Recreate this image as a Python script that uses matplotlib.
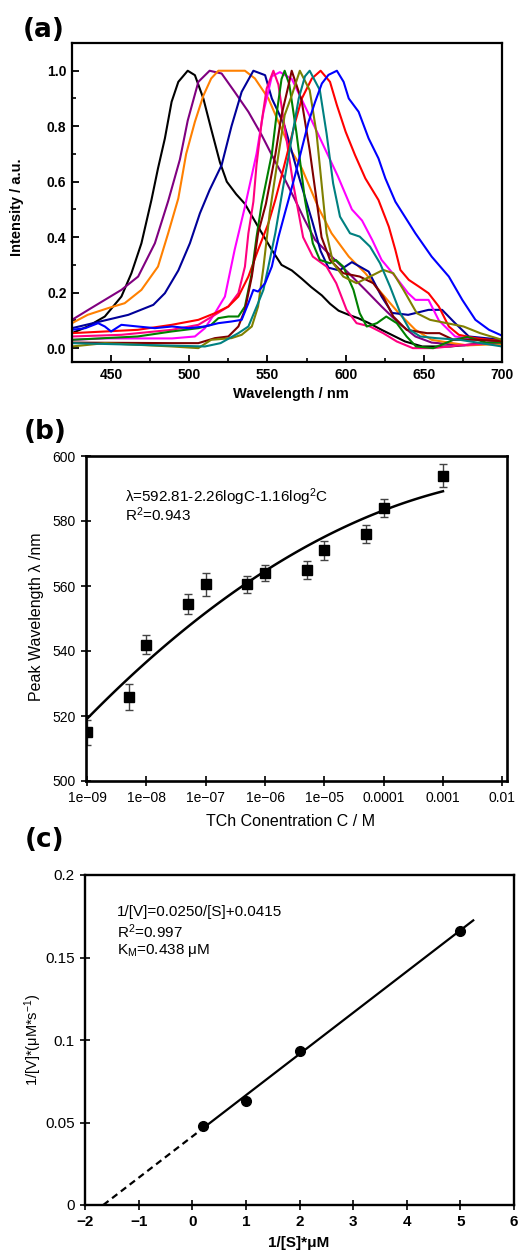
import matplotlib
matplotlib.use("Agg")
import matplotlib.pyplot as plt
from matplotlib.ticker import MultipleLocator, NullLocator, FixedLocator
import numpy as np

plt.rcParams['font.family'] = ['Liberation Sans', 'DejaVu Sans']
plt.rcParams['mathtext.fontset'] = 'custom'
plt.rcParams['mathtext.rm'] = 'Liberation Sans'
plt.rcParams['mathtext.it'] = 'Liberation Sans:italic'
plt.rcParams['mathtext.bf'] = 'Liberation Sans:bold'

# ---------- (a) normalised emission spectra ----------
wl_black = [425, 435, 446, 456.6, 463, 469.4, 475.8, 480, 484.4, 488.7, 493, 499, 503.6, 509, 514, 519.6, 524,
            530, 535.6, 544, 552.8, 559, 565.6, 572, 578, 584.8, 590, 595.5, 602, 608, 615, 623, 638, 649, 667, 700]
int_black = [0.054, 0.078, 0.114, 0.186, 0.27, 0.378, 0.534, 0.648, 0.756, 0.888, 0.96, 1.0, 0.984, 0.9, 0.79, 0.67, 0.6,
             0.555, 0.52, 0.438, 0.354, 0.30, 0.28, 0.25, 0.22, 0.19, 0.16, 0.135, 0.12, 0.108, 0.09, 0.066, 0.024, 0.006, 0.006, 0.024]

wl_purple = [425, 436, 446, 456.6, 467.3, 478, 486.5, 494, 499, 505.8, 513, 520.7, 529, 537.8, 546.3, 555, 561, 567.7,
             574, 580.5, 591, 602, 612.6, 623, 634, 644.6, 655, 676, 700]
int_purple = [0.102, 0.14, 0.174, 0.21, 0.258, 0.378, 0.53, 0.68, 0.82, 0.96, 1.0, 0.99, 0.924, 0.852, 0.768, 0.672, 0.61,
              0.534, 0.46, 0.39, 0.33, 0.27, 0.21, 0.15, 0.09, 0.042, 0.02, 0.01, 0.02]

wl_orange = [425, 435, 448, 458.7, 469.4, 480, 486.5, 493, 498, 503.6, 509, 514, 518.6, 527, 535.6, 542, 550.6, 559,
             565.6, 572, 582.7, 591, 602, 612.6, 623, 634, 644.6, 655, 666, 678, 700]
int_orange = [0.09, 0.12, 0.144, 0.162, 0.21, 0.294, 0.414, 0.54, 0.70, 0.816, 0.91, 0.972, 1.0, 1.0, 1.0, 0.972, 0.9, 0.79,
              0.708, 0.648, 0.505, 0.414, 0.33, 0.27, 0.198, 0.126, 0.066, 0.03, 0.02, 0.01, 0.015]

wl_navy = [425, 446, 461, 477, 484.4, 493, 500.4, 506.8, 513, 520.7, 527, 533.5, 541, 548.5, 552.8, 557, 561, 565, 570,
           578.5, 584, 589, 596, 604, 614.7, 623, 629.7, 640, 653, 661.7, 670, 678.8, 700]
int_navy = [0.072, 0.10, 0.12, 0.156, 0.198, 0.28, 0.378, 0.486, 0.57, 0.66, 0.80, 0.924, 1.0, 0.984, 0.9, 0.85, 0.80, 0.72,
            0.62, 0.46, 0.35, 0.29, 0.28, 0.31, 0.276, 0.186, 0.127, 0.12, 0.138, 0.138, 0.09, 0.042, 0.03]

wl_magenta = [425, 446, 489, 503.6, 510, 516.4, 522.8, 529, 535.6, 543, 547.4, 552.8, 558, 565.6, 575, 585, 595, 604,
              610.5, 617, 623, 631.8, 640, 644.6, 653, 659.6, 670, 686, 700]
int_magenta = [0.03, 0.035, 0.035, 0.042, 0.072, 0.126, 0.186, 0.354, 0.51, 0.70, 0.85, 0.98, 0.995, 0.97, 0.86, 0.74,
               0.62, 0.5, 0.46, 0.39, 0.318, 0.258, 0.198, 0.174, 0.174, 0.10, 0.042, 0.03, 0.025]

wl_pink = [425, 456.6, 488.7, 505.8, 516.4, 525, 531.4, 535.6, 537.8, 541, 543, 546.3, 549.5, 553.8, 557, 560, 566.4,
           572.8, 579, 587.8, 594, 600.6, 607, 615.6, 624, 632.7, 643, 656, 673, 700]
int_pink = [0.042, 0.048, 0.066, 0.084, 0.12, 0.15, 0.198, 0.294, 0.414, 0.528, 0.66, 0.816, 0.936, 1.0, 0.95, 0.834, 0.594,
            0.40, 0.33, 0.294, 0.234, 0.138, 0.09, 0.078, 0.054, 0.024, 0.0, 0.0, 0.01, 0.02]

wl_red = [425, 446, 467, 488.7, 505.8, 516.4, 525, 531.4, 537.8, 544, 550.6, 555, 559, 563.5, 568, 572, 578.4, 584, 590,
          594.4, 600, 606, 612.6, 621, 627.6, 631.8, 635, 640.4, 646.8, 653, 659.6, 666, 672.4, 683, 700]
int_red = [0.054, 0.06, 0.066, 0.084, 0.102, 0.126, 0.15, 0.186, 0.258, 0.354, 0.45, 0.534, 0.62, 0.72, 0.82, 0.9, 0.972,
           1.0, 0.96, 0.876, 0.78, 0.696, 0.612, 0.534, 0.438, 0.354, 0.282, 0.246, 0.222, 0.198, 0.15, 0.078, 0.048, 0.036, 0.025]

wl_green = [425, 467, 488.7, 505.8, 514, 518.6, 525, 531.4, 535.6, 540, 543, 546.3, 552.8, 556, 559, 561, 564, 568.6, 574,
            579, 583.5, 590, 593.7, 598.5, 605, 609, 613.5, 620, 626, 632.7, 639, 645, 656, 669, 678, 690, 700]
int_green = [0.03, 0.042, 0.06, 0.072, 0.084, 0.108, 0.114, 0.114, 0.15, 0.27, 0.40, 0.52, 0.70, 0.85, 0.97, 1.0, 0.95, 0.774,
             0.534, 0.378, 0.318, 0.306, 0.318, 0.294, 0.21, 0.126, 0.078, 0.09, 0.114, 0.09, 0.042, 0.006, 0.0, 0.03, 0.04, 0.02, 0.02]

wl_darkred = [425, 489, 505.8, 516.4, 525, 531.4, 535.6, 540, 544, 549, 555, 559, 563.5, 565.5, 571.8, 577, 581.4, 584.6,
              590, 598.5, 609, 617.7, 624, 630.5, 639, 652, 660, 669, 684, 700]
int_darkred = [0.02, 0.018, 0.018, 0.036, 0.042, 0.078, 0.138, 0.258, 0.414, 0.52, 0.696, 0.84, 0.948, 1.0, 0.894, 0.714,
               0.534, 0.40, 0.318, 0.27, 0.258, 0.234, 0.186, 0.114, 0.066, 0.054, 0.054, 0.03, 0.03, 0.025]

wl_olive = [425, 446, 467, 489, 505.8, 514, 527, 533.5, 540, 544, 547.4, 551.5, 557, 561, 565.6, 570.7, 577, 581.4, 584.6,
            587.8, 592, 598.5, 607, 615.6, 624, 630.5, 637, 645.5, 654, 664.7, 675.4, 686, 700]
int_olive = [0.006, 0.018, 0.012, 0.006, 0.0, 0.03, 0.036, 0.048, 0.078, 0.15, 0.29, 0.49, 0.696, 0.84, 0.912, 1.0, 0.93,
             0.774, 0.594, 0.414, 0.306, 0.258, 0.234, 0.258, 0.282, 0.27, 0.21, 0.126, 0.102, 0.09, 0.078, 0.054, 0.03]

wl_teal = [425, 510, 520, 531.4, 537.8, 544, 547.4, 550.6, 555, 560, 565, 570, 574, 577, 583.5, 587.8, 592, 596.4, 602.8,
           609, 615.6, 622, 628.4, 635, 641, 647.7, 658, 673, 700]
int_teal = [0.018, 0.006, 0.018, 0.054, 0.078, 0.162, 0.21, 0.294, 0.414, 0.58, 0.74, 0.9, 0.98, 1.0, 0.93, 0.774, 0.594,
            0.474, 0.414, 0.402, 0.366, 0.306, 0.222, 0.126, 0.066, 0.042, 0.036, 0.03, 0.006]

wl_blue = [425, 433.5, 441.7, 446, 450, 456.6, 467, 478, 489, 499.5, 510, 518.6, 527, 533.5, 537.8, 541, 544, 548.5, 552.8,
           557, 561.3, 563.5, 567.7, 572, 576.3, 580.5, 584.8, 589, 594.4, 598.7, 602, 608.3, 614.7, 621, 625.4, 631.8,
           644.6, 655, 666, 674.6, 683, 691.7, 700]
int_blue = [0.066, 0.072, 0.09, 0.078, 0.06, 0.084, 0.078, 0.072, 0.078, 0.072, 0.078, 0.09, 0.096, 0.102, 0.162, 0.21,
            0.204, 0.234, 0.294, 0.40, 0.49, 0.535, 0.624, 0.72, 0.816, 0.888, 0.954, 0.985, 1.0, 0.96, 0.90, 0.852, 0.756,
            0.684, 0.612, 0.528, 0.414, 0.33, 0.258, 0.174, 0.102, 0.066, 0.045]

spectra = [
    (wl_black, int_black, '#000000'),
    (wl_purple, int_purple, '#800080'),
    (wl_orange, int_orange, '#FF8000'),
    (wl_navy, int_navy, '#000099'),
    (wl_magenta, int_magenta, '#FF00FF'),
    (wl_pink, int_pink, '#FF0080'),
    (wl_red, int_red, '#FF0000'),
    (wl_green, int_green, '#008000'),
    (wl_darkred, int_darkred, '#800000'),
    (wl_olive, int_olive, '#808000'),
    (wl_teal, int_teal, '#008080'),
    (wl_blue, int_blue, '#0000FF'),
]

# ---------- (b) peak wavelength vs concentration ----------
conc = [1e-9, 5e-9, 1e-8, 5e-8, 1e-7, 5e-7, 1e-6, 5e-6, 1e-5, 5e-5, 1e-4, 1e-3]
peak_wl = [515, 526, 542, 554.5, 560.5, 560.5, 564, 565, 571, 576, 584, 594]
peak_err = [3.8, 4, 2.8, 3, 3.6, 2.5, 2.4, 2.7, 3, 2.8, 2.7, 3.6]
fit_b = (592.81, -2.26, -1.16)   # lambda = a + b*logC + c*log^2 C
b_ticks = [1e-9, 1e-8, 1e-7, 1e-6, 1e-5, 1e-4, 1e-3, 1e-2]
b_ticklabels = ['1e\u221209', '1e\u221208', '1e\u221207', '1e\u221206', '1e\u221205', '0.0001', '0.001', '0.01']

# ---------- (c) Lineweaver-Burk ----------
inv_s = [0.2, 1, 2, 5]
inv_v = [0.0477, 0.063, 0.0935, 0.166]
lb_slope, lb_int = 0.0250, 0.0415

W, H = 518, 1254
fig = plt.figure(figsize=(W / 100, H / 100), dpi=100)


def box(l, t, r, b):
    return [l / W, 1 - b / H, (r - l) / W, (b - t) / H]


# panel a
ax1 = fig.add_axes(box(72, 43, 502, 362))
for wl, inten, col in spectra:
    ax1.plot(wl, inten, color=col, lw=1.5)
ax1.set_xlim(425, 700)
ax1.set_ylim(-0.05, 1.1)
ax1.xaxis.set_major_locator(MultipleLocator(50))
ax1.xaxis.set_minor_locator(MultipleLocator(25))
ax1.yaxis.set_major_locator(MultipleLocator(0.2))
ax1.yaxis.set_minor_locator(MultipleLocator(0.1))
ax1.set_yticks([0, 0.2, 0.4, 0.6, 0.8, 1.0])
ax1.set_yticklabels(['0.0', '0.2', '0.4', '0.6', '0.8', '1.0'])
ax1.tick_params(which='major', direction='in', length=5, width=1.3, labelsize=10, pad=4)
ax1.tick_params(which='minor', direction='in', length=3, width=1.2)
for lab in ax1.get_xticklabels() + ax1.get_yticklabels():
    lab.set_fontweight('bold')
for sp in ax1.spines.values():
    sp.set_linewidth(1.6)
fig.text(17 / W, 1 - 207 / H, 'Intensity / a.u.', rotation=90, ha='center', va='center',
         fontsize=10.5, fontweight='bold')
fig.text(291 / W, 1 - 394 / H, 'Wavelength / nm', ha='center', va='center', fontsize=10.5, fontweight='bold')
fig.text(44 / W, 1 - 30 / H, '(a)', ha='center', va='center', fontsize=19, fontweight='bold', family='DejaVu Sans')

# panel b
ax2 = fig.add_axes(box(86, 456, 507, 781))
ax2.errorbar(conc, peak_wl, yerr=peak_err, fmt='s', color='black', ms=6.5, ecolor='#444444',
             elinewidth=1, capsize=3, capthick=1)
logc = np.linspace(np.log10(conc[0]), np.log10(conc[-1]), 120)
ax2.plot(10 ** logc, fit_b[0] + fit_b[1] * logc + fit_b[2] * logc ** 2, color='black', lw=1.8)
ax2.set_xscale('log')
ax2.set_xlim(10 ** -9.02, 10 ** -1.92)
ax2.set_ylim(500, 600)
ax2.xaxis.set_major_locator(FixedLocator(b_ticks))
ax2.xaxis.set_minor_locator(NullLocator())
ax2.set_xticks(b_ticks)
ax2.set_xticklabels(b_ticklabels)
ax2.yaxis.set_major_locator(MultipleLocator(20))
ax2.tick_params(direction='inout', length=7, width=1.2, labelsize=10, pad=4)
for sp in ax2.spines.values():
    sp.set_linewidth(1.9)
ax2.text(0.093, 0.874, '\u03bb=592.81-2.26logC-1.16log$^2$C', transform=ax2.transAxes,
         ha='left', va='center', fontsize=11)
ax2.text(0.093, 0.818, 'R$^2$=0.943', transform=ax2.transAxes, ha='left', va='center', fontsize=11)
fig.text(37 / W, 1 - 617 / H, 'Peak Wavelength \u03bb /nm', rotation=90, ha='center', va='center', fontsize=11.5)
fig.text(291 / W, 1 - 822 / H, 'TCh Conentration C / M', ha='center', va='center', fontsize=11.5)
fig.text(45 / W, 1 - 432 / H, '(b)', ha='center', va='center', fontsize=19, fontweight='bold', family='DejaVu Sans')

# panel c
ax3 = fig.add_axes(box(85, 875, 514, 1205))
xs = np.array([inv_s[0], 5.24])
ax3.plot(xs, lb_slope * xs + lb_int, color='black', lw=1.6)
xd = np.array([-lb_int / lb_slope, inv_s[0]])
ax3.plot(xd, lb_slope * xd + lb_int, color='black', lw=1.6, ls=(0, (3, 2)))
ax3.plot(inv_s, inv_v, 'o', color='black', ms=7)
ax3.set_xlim(-2, 6)
ax3.set_ylim(0, 0.2)
ax3.xaxis.set_major_locator(MultipleLocator(1))
ax3.set_yticks([0, 0.05, 0.1, 0.15, 0.2])
ax3.set_yticklabels(['0', '0.05', '0.1', '0.15', '0.2'])
ax3.tick_params(direction='inout', length=7, width=1.2, labelsize=11, pad=4)
for lab in ax3.get_xticklabels():
    lab.set_fontweight('bold')
for sp in ax3.spines.values():
    sp.set_linewidth(1.7)
ax3.text(0.075, 0.888, '1/[V]=0.0250/[S]+0.0415', transform=ax3.transAxes, ha='left', va='center', fontsize=11)
ax3.text(0.075, 0.827, 'R$^2$=0.997', transform=ax3.transAxes, ha='left', va='center', fontsize=11)
ax3.text(0.075, 0.770, 'K$_\\mathrm{M}$=0.438 \u03bcM', transform=ax3.transAxes, ha='left', va='center', fontsize=11)
fig.text(33 / W, 1 - 1040 / H, '1/[V]*(\u03bcM*s$^{-1}$)', rotation=90, ha='center', va='center', fontsize=10.5)
fig.text(299 / W, 1 - 1243 / H, '1/[S]*\u03bcM', ha='center', va='center', fontsize=11, fontweight='bold')
fig.text(45 / W, 1 - 840 / H, '(c)', ha='center', va='center', fontsize=19, fontweight='bold', family='DejaVu Sans')

fig.savefig('out.png', dpi=100)
